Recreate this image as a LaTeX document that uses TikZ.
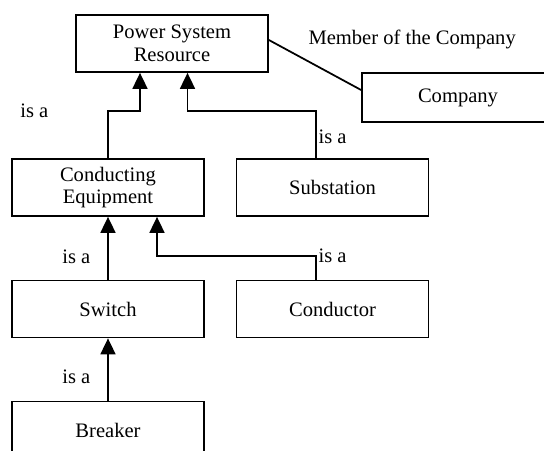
\documentclass[tikz,border=0pt]{standalone}
\usepackage{fontspec}
\setmainfont{Liberation Serif}
\usepackage{tikz}
\usetikzlibrary{shapes,arrows.meta,positioning}

\begin{document}
\begin{tikzpicture}[auto,
  block/.style={rectangle, draw, line width=1pt, minimum width=3.84cm, minimum height=1.14cm, inner sep=0pt, align=center, font=\fontsize{11.7}{12.8}\selectfont},
  isa/.style={-{Triangle[width=0.3cm,length=0.32cm]}, line width=1pt},
  lbl/.style={font=\fontsize{11.7}{12.8}\selectfont, inner sep=1pt}]
\useasboundingbox (0,0) rectangle (10.88,-9);
\clip (0,0) rectangle (10.88,-9);
\node (psr) [block] at (3.44,-0.87) {Power System\\Resource};
\node (company) [block, minimum height=0.98cm] at (9.16,-1.95) {Company};
\node (ce) [block] at (2.16,-3.75) {Conducting\\Equipment};
\node (substation) [block, right of=ce, node distance=4.49cm] {Substation};
\node (switch) [block, below of=ce, node distance=2.43cm] {Switch};
\node (conductor) [block, right of=switch, node distance=4.49cm] {Conductor};
\node (breaker) [block, below of=switch, node distance=2.42cm] {Breaker};

% association
\draw [line width=1pt] ([yshift=0.07cm]psr.east) -- node[lbl, pos=0, anchor=west, xshift=0.74cm, yshift=0.02cm] {Member of the Company} ([yshift=0.15cm]company.west);

% generalisations
\draw [isa] (ce.north) -- ++(0,0.94) node[lbl, left=1.14cm] {is a} -| ([xshift=-0.64cm]psr.south);
\draw [isa] ([xshift=-0.33cm]substation.north) -- node[lbl, right, pos=0.45] {is a} ++(0,0.94) -| ([xshift=0.31cm]psr.south);
\draw [isa] (switch.north) -- node[lbl, left=0.3cm, pos=0.36] {is a} (ce.south);
\draw [isa] ([xshift=-0.33cm]conductor.north) -- ++(0,0.48) node[lbl, right] {is a} -| ([xshift=0.98cm]ce.south);
\draw [isa] (breaker.north) -- node[lbl, left=0.3cm, pos=0.375] {is a} (switch.south);
\end{tikzpicture}
\end{document}
